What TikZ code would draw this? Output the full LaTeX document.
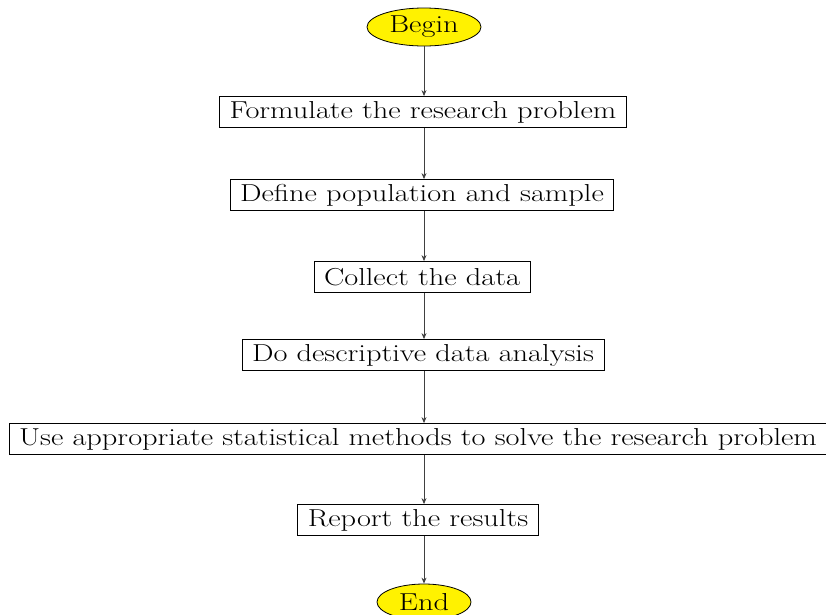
\documentclass[tikz,border=0pt]{standalone}
\usepackage{fontspec}
\newfontfamily\widefont{Latin Modern Roman}[FakeStretch=1.24]
\usetikzlibrary{shapes.geometric,arrows.meta}
\tikzset{
  stepbox/.style={draw, thick, fill=white, inner xsep=10pt, minimum height=31pt, font=\widefont\fontsize{24.5}{28}\selectfont},
  terminal/.style={ellipse, draw, thick, fill=yellow, inner sep=0pt, font=\widefont\fontsize{24.5}{28}\selectfont},
  flow/.style={-{Stealth[length=6pt,width=5pt]}, thick, black!75}
}
\begin{document}
\begin{tikzpicture}[x=1pt, y=-1pt]
  \useasboundingbox (0,0) rectangle (826,614);
  \node[terminal, minimum width=114pt, minimum height=38pt] (begin) at (424,27) {Begin};
  \node[stepbox] (formulate) at (423,112) {Formulate the research problem};
  \node[stepbox] (define) at (422,195) {Define population and sample};
  \node[stepbox] (collect) at (422,277) {Collect the data};
  \node[stepbox] (describe) at (423,355) {Do descriptive data analysis};
  \node[stepbox] (methods) at (418,439) {Use appropriate statistical methods to solve the research problem};
  \node[stepbox] (report) at (418,520) {Report the results};
  \node[terminal, minimum width=94pt, minimum height=36pt] (end) at (424,602) {End};
  \foreach \a/\b in {begin/formulate, formulate/define, define/collect, collect/describe, describe/methods, methods/report, report/end}
    \draw[flow] (\a.south -| 424,0) -- (\b.north -| 424,0);
\end{tikzpicture}
\end{document}
